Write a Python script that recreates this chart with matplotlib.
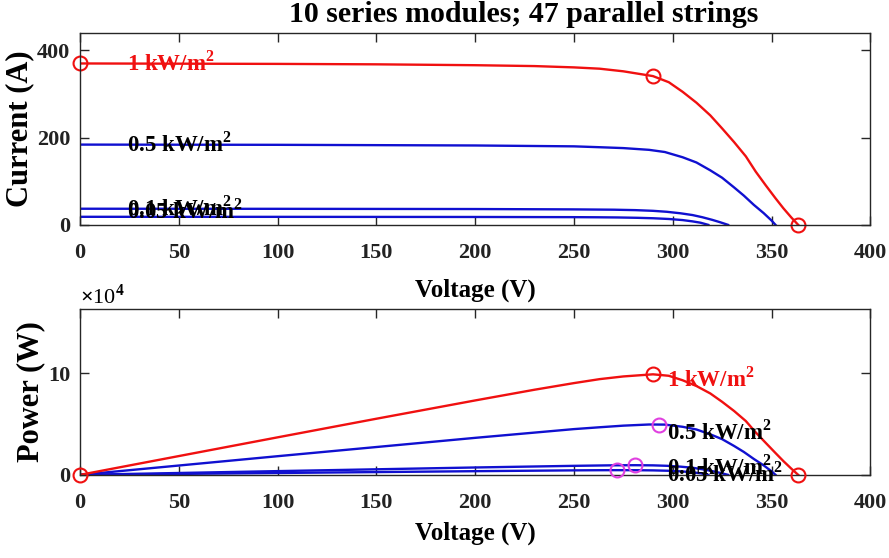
import numpy as np
import matplotlib
matplotlib.use("Agg")
import matplotlib.pyplot as plt

plt.rcParams['font.family'] = ['Liberation Serif', 'DejaVu Serif']
plt.rcParams['font.weight'] = 'bold'
plt.rcParams['axes.labelweight'] = 'bold'
plt.rcParams['axes.titleweight'] = 'bold'
plt.rcParams['mathtext.fontset'] = 'custom'
plt.rcParams['mathtext.rm'] = 'Liberation Serif:bold'
plt.rcParams['mathtext.bf'] = 'Liberation Serif:bold'

# I-V characteristics of the array (voltage in V, current in A)
v_1000 = [0, 50, 100, 150, 200, 230, 250, 263, 275, 290, 298, 305, 312, 319,
          325, 331, 337, 342, 347, 352, 356, 360, 363.5]
i_1000 = [370, 369.5, 369, 368, 366, 364, 361, 358, 352, 341, 327, 305, 280,
          251, 221, 190, 157, 122, 91, 61, 38, 17, 0]

v_500 = [0, 100, 200, 250, 263, 275, 288, 296, 305, 312, 319, 325, 331, 336,
         341, 346, 350, 352]
i_500 = [184, 183.5, 182, 180, 178, 176, 172, 167, 155, 143, 125, 108, 86,
         67, 46, 27, 10, 0]

v_100 = [0, 100, 200, 250, 270, 281, 290, 297, 304, 310, 315, 320, 324, 328]
i_100 = [37, 36.8, 36.3, 35.5, 34.8, 33.8, 32.2, 30, 26.5, 22.5, 17.5, 11.5,
         6, 0]

v_50 = [0, 100, 200, 250, 262, 272, 282, 290, 298, 305, 310, 314, 318]
i_50 = [18.5, 18.4, 18.1, 17.7, 17.4, 17.0, 16.2, 15.2, 13.5, 11, 8, 5, 0]

# maximum power points and the 1 kW/m^2 operating marks
mpp_v = [290, 293, 281, 272]
mpp_i = [341, 169, 33.8, 17.0]
isc_1000 = 370
voc_1000 = 363.5

labels = ['1 kW/m$^2$', '0.5 kW/m$^2$', '0.1 kW/m$^2$', '0.05 kW/m$^2$']
x_ticks = [0, 50, 100, 150, 200, 250, 300, 350, 400]

RED = '#f01010'
BLUE = '#1010d0'
MAG = '#e040e0'
AX_COL = '#262626'

fig = plt.figure(figsize=(8.89, 5.58), dpi=100)
ax1 = fig.add_axes([0.090, 0.597, 0.889, 0.344])
ax2 = fig.add_axes([0.090, 0.149, 0.889, 0.297])

series = [(v_1000, i_1000, RED), (v_500, i_500, BLUE),
          (v_100, i_100, BLUE), (v_50, i_50, BLUE)]

for v, i, c in series[::-1]:
    ax1.plot(v, i, color=c, lw=1.7)
    p = np.array(v) * np.array(i)
    ax2.plot(v, p, color=c, lw=1.7)

ms = 10
# I-V marks on the 1 kW/m^2 curve
ax1.plot([0, mpp_v[0], voc_1000], [isc_1000, mpp_i[0], 0], 'o',
         mfc='none', mec=RED, ms=ms, mew=1.5, clip_on=False)
# P-V marks
ax2.plot([0, mpp_v[0], voc_1000], [0, mpp_v[0] * mpp_i[0], 0], 'o',
         mfc='none', mec=RED, ms=ms, mew=1.5, clip_on=False, zorder=5)
ax2.plot(mpp_v[1:], np.array(mpp_v[1:]) * np.array(mpp_i[1:]), 'o',
         mfc='none', mec=MAG, ms=ms, mew=1.5, clip_on=False, zorder=5)

fs_lab = 16.5
ax1.text(24, 370, labels[0], color=RED, fontsize=fs_lab, va='center')
ax1.text(24, 186, labels[1], color='black', fontsize=fs_lab, va='center')
ax1.text(24, 38, labels[2], color='black', fontsize=fs_lab, va='center')
ax1.text(24, 31, labels[3], color='black', fontsize=fs_lab, va='center')

ax2.text(297, 9.4e4, labels[0], color=RED, fontsize=fs_lab, va='center')
ax2.text(297, 4.2e4, labels[1], color='black', fontsize=fs_lab, va='center')
ax2.text(297, 0.75e4, labels[2], color='black', fontsize=fs_lab, va='center')
ax2.text(297, 0.1e4, labels[3], color='black', fontsize=fs_lab, va='center')

for ax in (ax1, ax2):
    ax.set_xlim(0, 400)
    ax.set_xticks(x_ticks)
    ax.tick_params(direction='in', top=True, right=True, length=6.5,
                   width=1.0, colors=AX_COL, labelsize=16, pad=7)
    ax.tick_params(axis='x', pad=13)
    for lab in ax.get_xticklabels() + ax.get_yticklabels():
        lab.set_color('#222222')
    for s in ax.spines.values():
        s.set_color(AX_COL)
        s.set_linewidth(1.0)

ax1.set_xlabel('Voltage (V)', fontsize=18, labelpad=11)
ax2.set_xlabel('Voltage (V)', fontsize=18, labelpad=6)

ax1.set_ylim(0, 440)
ax1.set_yticks([0, 200, 400])
ax1.set_ylabel('Current (A)', fontsize=22, labelpad=2)

ax2.set_ylim(0, 1.63e5)
ax2.set_yticks([0, 1e5])
ax2.set_yticklabels(['0', '10'])
ax2.set_ylabel('Power (W)', fontsize=22, labelpad=2)
ax2.text(0.0, 1.005, r'$\times$10$^4$', transform=ax2.transAxes,
         fontsize=16, fontweight='normal', va='bottom', ha='left')

fig.text(0.589, 1 - 22 / 558, '10 series modules; 47 parallel strings',
         fontsize=21.5, fontweight='bold', ha='center', va='baseline')

fig.savefig('out.png', dpi=100)
